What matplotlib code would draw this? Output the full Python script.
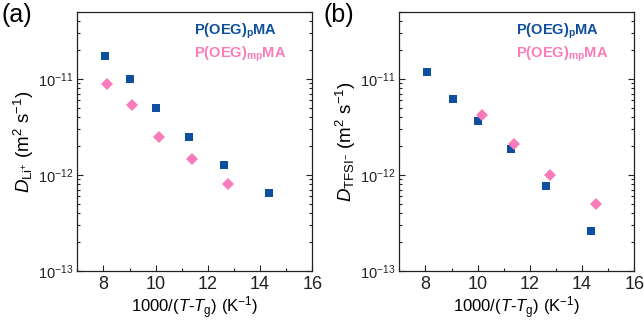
import matplotlib
matplotlib.use("Agg")
import matplotlib.pyplot as plt
from matplotlib.ticker import LogLocator, MultipleLocator, NullFormatter, FixedLocator

plt.rcParams['font.family'] = ['Liberation Sans', 'DejaVu Sans']
plt.rcParams['mathtext.fontset'] = 'custom'
plt.rcParams['mathtext.rm'] = 'Liberation Sans'
plt.rcParams['mathtext.it'] = 'Liberation Sans:italic'
plt.rcParams['mathtext.bf'] = 'Liberation Sans:bold'

# Panel (a): Li+ diffusion
a_p_x = [8.08, 9.03, 10.0, 11.27, 12.62, 14.33]
a_p_y = [1.74e-11, 9.9e-12, 4.96e-12, 2.46e-12, 1.27e-12, 6.5e-13]
a_mp_x = [8.15, 9.10, 10.14, 11.38, 12.77]
a_mp_y = [8.9e-12, 5.38e-12, 2.48e-12, 1.45e-12, 8.0e-13]

# Panel (b): TFSI- diffusion
b_p_x = [8.08, 9.04, 10.02, 11.28, 12.62, 14.33]
b_p_y = [1.165e-11, 6.16e-12, 3.61e-12, 1.86e-12, 7.7e-13, 2.6e-13]
b_mp_x = [10.15, 11.41, 12.78, 14.54]
b_mp_y = [4.24e-12, 2.1e-12, 1.0e-12, 5.0e-13]

x_ticks = [8, 10, 12, 14, 16]
y_ticks = [1e-13, 1e-12, 1e-11]
series_names = [r'P(OEG)$_\mathbf{p}$MA', r'P(OEG)$_\mathbf{mp}$MA']
panel_labels = ['(a)', '(b)']
ylabels = [r'$D_{\mathrm{Li^{+}}}$ (m$^{2}$ s$^{-1}$)',
           r'$D_{\mathrm{TFSI^{-}}}$ (m$^{2}$ s$^{-1}$)']
xlabel = r'1000/($T$-$T_{\mathrm{g}}$) (K$^{-1}$)'

blue = '#0e4f9f'
pink = '#f97cba'

fig = plt.figure(figsize=(6.44, 3.26), dpi=100)
ax_a = fig.add_axes([0.1200, 0.169, 0.3650, 0.795])
ax_b = fig.add_axes([0.6200, 0.169, 0.3650, 0.795])

panels = [(ax_a, a_p_x, a_p_y, a_mp_x, a_mp_y),
          (ax_b, b_p_x, b_p_y, b_mp_x, b_mp_y)]

for i, (ax, px, py, mx, my) in enumerate(panels):
    ax.set_yscale('log')
    ax.plot(px, py, 's', color=blue, markersize=5.2, markeredgewidth=0, zorder=3)
    ax.plot(mx, my, 'D', color=pink, markersize=5.8, markeredgewidth=0, zorder=3)
    ax.set_xlim(7, 16)
    ax.set_ylim(1e-13, 5e-11)
    ax.set_xticks(x_ticks)
    ax.xaxis.set_minor_locator(MultipleLocator(1))
    ax.yaxis.set_major_locator(FixedLocator(y_ticks))
    ax.yaxis.set_minor_locator(LogLocator(base=10, subs=range(2, 10), numticks=10))
    ax.yaxis.set_minor_formatter(NullFormatter())
    ax.tick_params(which='both', direction='in', right=True, top=False,
                   width=0.8, colors='#222222')
    ax.tick_params(axis='x', which='major', labelsize=13, pad=4)
    ax.tick_params(axis='y', which='major', labelsize=10.5, pad=3)
    ax.tick_params(which='major', length=4)
    ax.tick_params(which='minor', length=2.5)
    for sp in ax.spines.values():
        sp.set_linewidth(0.9)
        sp.set_color('#222222')
    ax.set_xlabel(xlabel, fontsize=12, labelpad=1)
    ax.set_ylabel(ylabels[i], fontsize=13.5, labelpad=1)
    ax.text(0.497, 0.925, series_names[0], transform=ax.transAxes,
            color=blue, fontsize=10.5, fontweight='bold', va='center', ha='left')
    ax.text(0.497, 0.835, series_names[1], transform=ax.transAxes,
            color=pink, fontsize=10.5, fontweight='bold', va='center', ha='left')

fig.text(0.002, 0.99, panel_labels[0], fontsize=18, va='top', ha='left')
fig.text(0.502, 0.99, panel_labels[1], fontsize=18, va='top', ha='left')

fig.savefig('out.png', dpi=100)
